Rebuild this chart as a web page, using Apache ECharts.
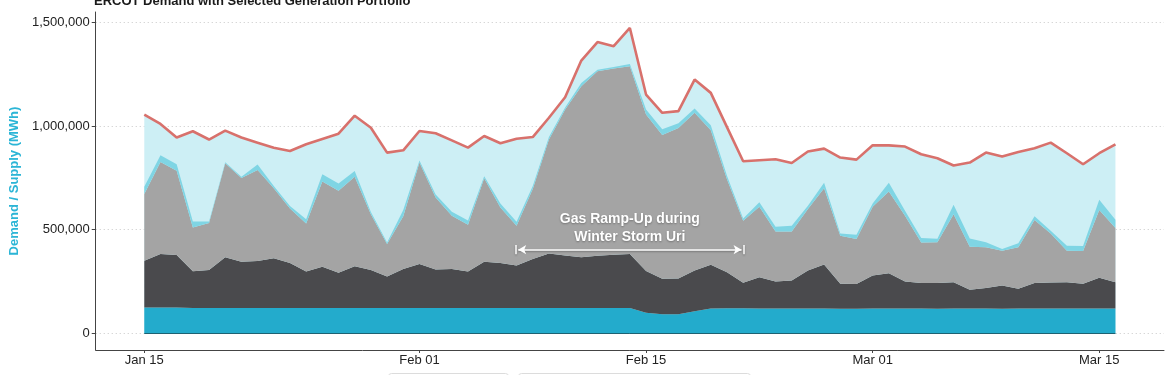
<!DOCTYPE html>
<html><head><meta charset="utf-8">
<script src="https://cdn.jsdelivr.net/npm/echarts@6/dist/echarts.min.js"></script>
<style>html,body{margin:0;padding:0;background:#fff}#c{width:1175px;height:375px}</style>
</head><body><div id="c"></div>
<script>
// Daily categories (2021)
const dates = ['Jan 15','Jan 16','Jan 17','Jan 18','Jan 19','Jan 20','Jan 21','Jan 22','Jan 23','Jan 24','Jan 25','Jan 26','Jan 27','Jan 28','Jan 29','Jan 30','Jan 31',
  'Feb 01','Feb 02','Feb 03','Feb 04','Feb 05','Feb 06','Feb 07','Feb 08','Feb 09','Feb 10','Feb 11','Feb 12','Feb 13','Feb 14','Feb 15','Feb 16','Feb 17','Feb 18','Feb 19','Feb 20','Feb 21','Feb 22','Feb 23','Feb 24','Feb 25','Feb 26','Feb 27','Feb 28',
  'Mar 01','Mar 02','Mar 03','Mar 04','Mar 05','Mar 06','Mar 07','Mar 08','Mar 09','Mar 10','Mar 11','Mar 12','Mar 13','Mar 14','Mar 15','Mar 16'];

// Values in GWh (thousand MWh)
const demandGWh = [1055,1010,945,975,935,978,945,920,895,880, 912,938,963,1050,992,872,883,976,965,931,
  896,952,917,939,947,1040,1139,1316,1405,1385, 1473,1152,1064,1072,1224,1160,995,830,835,840,
  822,877,891,848,838,907,907,901,864,845, 810,824,872,853,875,893,920,869,816,869,912];
const nuclearGWh = [125,125,125,123,123,123,123,123,123,123, 123,123,123,123,123,123,122,122,122,122,
  122,122,122,122,122,122,122,122,122,123, 122,100,92,92,107,120,121,121,120,120,
  120,120,120,119,119,120,120,120,120,119, 120,120,120,119,120,120,120,120,120,120,120];
const coalGWh = [226,258,253,177,183,244,223,226,239,217, 175,199,169,201,183,151,189,213,186,189,
  176,224,218,205,237,263,254,245,253,256, 261,201,171,173,196,211,174,123,151,130,
  135,183,212,120,119,159,170,130,123,124, 127,90,99,112,95,123,125,127,119,148,127];
const gasGWh = [321,444,406,211,226,454,403,439,338,262, 232,410,396,432,269,157,254,489,347,256,
  226,402,267,192,337,550,704,825,889,898, 905,755,694,725,761,649,449,299,340,242,
  237,297,368,232,217,332,394,317,196,197, 328,208,197,168,201,304,237,152,158,327,261];
const solarGWh = [35,32,32,29,8,5,7,27,11,13, 21,35,35,27,11,8,30,10,15,20,
  20,10,20,20,15,12,10,16,8,8, 11,24,27,24,21,24,16,11,21,22,
  27,16,27,11,21,16,43,24,21,16, 45,40,24,8,19,18,13,24,24,50,40];

const xTickLabels = ['Jan 15','Feb 01','Feb 15','Mar 01','Mar 15'];
const yTicks = [0, 500000, 1000000, 1500000];

// Annotation: arrow span (dates) and level (MWh)
const annoStart = 'Feb 07', annoEnd = 'Feb 21', annoLevel = 404000;
const annoText = 'Gas Ramp-Up during\nWinter Storm Uri';

const FONT = 'Liberation Sans, Arial, Helvetica, sans-serif';
const xTickPos = xTickLabels.map(l => dates.indexOf(l));
// data stored as [value(MWh), dayIndex] so that stacking happens on the value dimension
const pts = arr => arr.map((v, i) => [v * 1000, i]);
const ENC = {x: 1, y: 0};

const chart = echarts.init(document.getElementById('c'), null, {renderer: 'canvas'});

function stackSeries(name, arr, color, extra) {
  return Object.assign({
    name, type: 'line', stack: 'gen', data: pts(arr), encode: ENC, symbol: 'none', showSymbol: false,
    lineStyle: {width: 0}, areaStyle: {color, opacity: 1}, itemStyle: {color}, z: 3, silent: true
  }, extra || {});
}

const x0 = dates.indexOf(annoStart) + 0.1, x1 = dates.indexOf(annoEnd) - 0.1;
const bar = 0.15;

const option = {
  animation: false,
  backgroundColor: '#fff',
  title: {
    text: 'ERCOT Demand with Selected Generation Portfolio',
    left: 89, top: -10,
    textStyle: {fontFamily: FONT, fontSize: 13, fontWeight: 'bold', color: '#1a1a1a'}
  },
  grid: {left: 90, right: 11, top: 12, bottom: 25, containLabel: false},
  xAxis: {
    type: 'value', min: -3, max: 63,
    axisLine: {show: true, onZero: false, lineStyle: {color: '#444', width: 1}},
    axisTick: {show: true, customValues: xTickPos, length: 3, lineStyle: {color: '#444'}},
    axisLabel: {customValues: xTickPos, formatter: v => dates[Math.round(v)], margin: 4,
      color: '#222', fontSize: 13, fontFamily: FONT},
    splitLine: {show: false}
  },
  yAxis: {
    type: 'value', min: -80000, max: 1550000,
    name: 'Demand / Supply (MWh)', nameLocation: 'middle', nameGap: 66,
    nameTextStyle: {color: '#2bb5d6', fontWeight: 'bold', fontSize: 13, fontFamily: FONT},
    axisLine: {show: true, onZero: false, lineStyle: {color: '#444', width: 1}},
    axisTick: {show: true, customValues: yTicks, length: 4, lineStyle: {color: '#444'}},
    axisLabel: {customValues: yTicks, formatter: v => Number(v).toLocaleString('en-US'), margin: 6,
      color: '#222', fontSize: 13, fontFamily: FONT},
    splitLine: {show: true, lineStyle: {type: [1, 3], color: '#c8c8c8', width: 1}}
  },
  series: [
    {
      name: 'Demand', type: 'line', data: pts(demandGWh), encode: ENC, symbol: 'none', showSymbol: false,
      lineStyle: {color: '#d8716c', width: 2.6}, areaStyle: {color: '#cdeff5', opacity: 1},
      itemStyle: {color: '#d8716c'}, z: 2, silent: true
    },
    stackSeries('Nuclear', nuclearGWh, '#23abcc', {
      markLine: {
        silent: true, z: 4, animation: false, symbol: 'none', label: {show: false},
        lineStyle: {color: '#1d6272', width: 1, type: 'solid'},
        data: [[{coord: [0, 0]}, {coord: [dates.length - 1, 0]}]]
      }
    }),
    stackSeries('Coal', coalGWh, '#4a4a4d'),
    stackSeries('Gas', gasGWh, '#a4a4a4'),
    stackSeries('Solar', solarGWh, '#7fd5e4', {
      markLine: {
        silent: true, z: 10, animation: false,
        symbol: ['arrow', 'arrow'], symbolSize: [7, 8],
        lineStyle: {color: '#fff', width: 1.5, type: 'solid', shadowColor: 'rgba(0,0,0,0.35)', shadowBlur: 2, shadowOffsetY: 1},
        label: {
          show: true, position: 'middle', formatter: annoText, distance: 3,
          color: '#fff', fontWeight: 'bold', fontSize: 14, lineHeight: 18, fontFamily: FONT,
          textShadowColor: 'rgba(0,0,0,0.3)', textShadowBlur: 2, textShadowOffsetY: 1
        },
        data: [
          [{coord: [x0, annoLevel]}, {coord: [x1, annoLevel]}],
          [{coord: [x0 - bar, annoLevel - 22000], symbol: 'none', label: {show: false}},
           {coord: [x0 - bar, annoLevel + 22000], symbol: 'none'}],
          [{coord: [x1 + bar, annoLevel - 22000], symbol: 'none', label: {show: false}},
           {coord: [x1 + bar, annoLevel + 22000], symbol: 'none'}]
        ]
      }
    })
  ],
  graphic: [
    {type: 'rect', left: 388, top: 373, shape: {width: 120, height: 20, r: 3}, style: {fill: '#fff', stroke: '#dcdcdc', lineWidth: 1}, silent: true},
    {type: 'rect', left: 518, top: 373, shape: {width: 232, height: 20, r: 3}, style: {fill: '#fff', stroke: '#dcdcdc', lineWidth: 1}, silent: true}
  ]
};
chart.setOption(option);
</script>
</body></html>
